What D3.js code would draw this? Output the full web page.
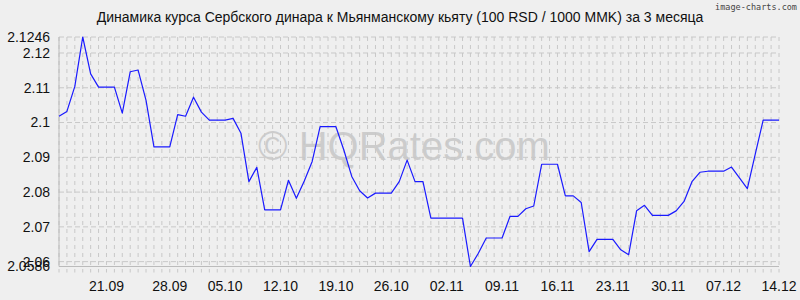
<!DOCTYPE html>
<html>
<head>
<meta charset="utf-8">
<script src="https://cdn.jsdelivr.net/npm/d3@7"></script>
<style>
    body { margin: 0; background: #efefef; }
    svg { display: block; font-family: "Liberation Sans", Arial, sans-serif; }
</style>
</head>
<body>
<div id="chart"></div>
<script>
// Chart content
const chartTitle = "Динамика курса Сербского динара к Мьянманскому кьяту (100 RSD / 1000 MMK) за 3 месяца";

// daily rate, 14.09 .. 14.12
const rates = [
    2.1018, 2.1032, 2.1104, 2.1246, 2.1140, 2.1102, 2.1102, 2.1102, 2.1027, 2.1146,
    2.1151, 2.1064, 2.0930, 2.0930, 2.0930, 2.1023, 2.1018, 2.1073, 2.1030, 2.1007,
    2.1007, 2.1007, 2.1012, 2.0969, 2.0830, 2.0871, 2.0749, 2.0749, 2.0749, 2.0834,
    2.0782, 2.0832, 2.0888, 2.0988, 2.0988, 2.0988, 2.0921, 2.0845, 2.0804, 2.0783,
    2.0797, 2.0797, 2.0797, 2.0830, 2.0892, 2.0830, 2.0830, 2.0725, 2.0725, 2.0725,
    2.0725, 2.0725, 2.0586, 2.0624, 2.0668, 2.0668, 2.0668, 2.0730, 2.0730, 2.0752,
    2.0760, 2.0880, 2.0880, 2.0880, 2.0789, 2.0789, 2.0770, 2.0629, 2.0664, 2.0664,
    2.0664, 2.0634, 2.0620, 2.0746, 2.0762, 2.0733, 2.0733, 2.0733, 2.0746, 2.0773,
    2.0830, 2.0857, 2.0860, 2.0860, 2.0860, 2.0872, 2.0841, 2.0810, 2.0909, 2.1007,
    2.1007, 2.1007
];

// x axis labels and the day index they sit on
const tickLabels = ["21.09", "28.09", "05.10", "12.10", "19.10", "26.10", "02.11",
    "09.11", "16.11", "23.11", "30.11", "07.12", "14.12"];
const tickIndex = [6, 14, 21, 28, 35, 42, 49, 56, 63, 70, 77, 84, 91];

// y axis labels (min and max of the period included)
const yTicks = [2.0586, 2.06, 2.07, 2.08, 2.09, 2.1, 2.11, 2.12, 2.1246];

class RateLineChart {
    config; data;

    width; height;

    svg; chart;

    xScale; yScale;

    constructor(config, data) {
        this.config = config;
        this.data = data;

        this.configureVis();
    }

    configureVis() {
        const vis = this;

        vis.width = vis.config.containerWidth - vis.config.margin.left - vis.config.margin.right;
        vis.height = vis.config.containerHeight - vis.config.margin.top - vis.config.margin.bottom;

        // one step per day
        vis.xScale = d3.scaleLinear()
            .domain([0, vis.data.length - 1])
            .range([0, vis.width]);

        vis.yScale = d3.scaleLinear()
            .domain([d3.min(yTicks), d3.max(yTicks)])
            .range([vis.height, 0]);

        vis.svg = d3.select(vis.config.parentElement).append('svg')
            .attr('width', vis.config.containerWidth)
            .attr('height', vis.config.containerHeight);

        vis.svg.append('rect')
            .attr('width', vis.config.containerWidth)
            .attr('height', vis.config.containerHeight)
            .attr('fill', '#efefef');

        vis.svg.append('text')
            .attr('x', vis.config.containerWidth / 2)
            .attr('y', 22)
            .style('text-anchor', 'middle')
            .style('font-size', '14px')
            .attr('fill', '#111')
            .text(chartTitle);

        vis.svg.append('text')
            .attr('x', 797)
            .attr('y', 10)
            .style('text-anchor', 'end')
            .style('font-family', '"DejaVu Sans Mono", monospace')
            .style('font-size', '8.5px')
            .attr('fill', '#444')
            .text('image-charts.com');

        vis.chart = vis.svg.append('g')
            .attr('transform', `translate(${vis.config.margin.left},${vis.config.margin.top})`);

        vis.renderVis();
    }

    renderVis() {
        const vis = this;

        // watermark
        vis.chart.append('text')
            .attr('x', vis.width / 2 - 15)
            .attr('y', 123)
            .style('text-anchor', 'middle')
            .style('font-size', '40px')
            .attr('fill', '#000')
            .attr('opacity', 0.14)
            .text('© HQRates.com');

        // vertical grid, one line per day
        vis.chart.selectAll('.grid-x')
            .data(vis.data.map((d, i) => i))
            .join('line')
            .attr('class', 'grid-x')
            .attr('x1', i => vis.xScale(i))
            .attr('x2', i => vis.xScale(i))
            .attr('y1', 0)
            .attr('y2', vis.height + 6)
            .attr('stroke', '#c8c8c8')
            .attr('stroke-dasharray', '4,4');

        vis.chart.selectAll('.grid-y')
            .data(yTicks)
            .join('line')
            .attr('class', 'grid-y')
            .attr('x1', 0)
            .attr('x2', vis.width)
            .attr('y1', v => vis.yScale(v))
            .attr('y2', v => vis.yScale(v))
            .attr('stroke', '#c8c8c8')
            .attr('stroke-dasharray', '5,3');

        // axis lines
        vis.chart.append('line')
            .attr('x1', 0).attr('x2', 0)
            .attr('y1', 0).attr('y2', vis.height)
            .attr('stroke', '#bbb');
        vis.chart.append('line')
            .attr('x1', 0).attr('x2', vis.width)
            .attr('y1', vis.height).attr('y2', vis.height)
            .attr('stroke', '#bbb');

        const line = d3.line()
            .x((d, i) => vis.xScale(i))
            .y(d => vis.yScale(d));

        vis.chart.append('path')
            .datum(vis.data)
            .attr('d', line)
            .attr('fill', 'none')
            .attr('stroke', '#1a1aff')
            .attr('stroke-width', 1.2)
            .attr('stroke-linejoin', 'round');

        // y labels
        vis.chart.selectAll('.y-label')
            .data(yTicks)
            .join('text')
            .attr('class', 'y-label')
            .attr('x', -9)
            .attr('y', v => vis.yScale(v))
            .attr('dy', '0.35em')
            .style('text-anchor', 'end')
            .style('font-size', '14px')
            .attr('fill', '#111')
            .text(v => String(v));

        // x labels
        vis.chart.selectAll('.x-label')
            .data(tickIndex)
            .join('text')
            .attr('class', 'x-label')
            .attr('x', i => vis.xScale(i))
            .attr('y', vis.height + 24)
            .style('text-anchor', 'middle')
            .style('font-size', '14px')
            .attr('fill', '#111')
            .text((i, k) => tickLabels[k]);
    }
}

const rateChart = new RateLineChart({
    parentElement: '#chart',
    containerWidth: 800,
    containerHeight: 300,
    margin: { top: 37, right: 21, bottom: 33.5, left: 59 }
}, rates);
</script>
</body>
</html>
